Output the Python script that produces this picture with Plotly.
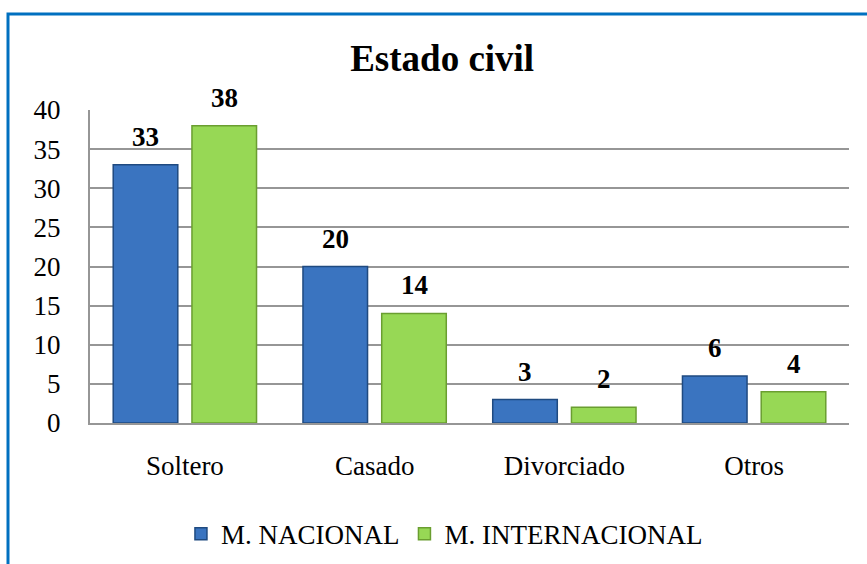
import plotly.graph_objects as go

categories = ["Soltero", "Casado", "Divorciado", "Otros"]
nacional = [33, 20, 3, 6]
internacional = [38, 14, 2, 4]
series_names = ["M. NACIONAL", "M. INTERNACIONAL"]
y_ticks = [0, 5, 10, 15, 20, 25, 30, 35, 40]

FONT = "Liberation Serif, Times New Roman, serif"
BARGAP = 0.17
half_slot = (1 - BARGAP) / 4

fig = go.Figure()
fig.add_trace(go.Bar(
    x=categories, y=nacional, name=series_names[0],
    marker=dict(color="#3A74C0", line=dict(color="#1F4A80", width=1.5)),
))
fig.add_trace(go.Bar(
    x=categories, y=internacional, name=series_names[1],
    marker=dict(color="#97D855", line=dict(color="#6A9E30", width=1.5)),
))

annotations = []
for i, (a, b) in enumerate(zip(nacional, internacional)):
    for val, off in ((a, -half_slot), (b, half_slot)):
        annotations.append(dict(
            x=i + off, y=val, xref="x", yref="y", text=f"<b>{val}</b>",
            showarrow=False, yanchor="bottom", yshift=11,
            font=dict(family=FONT, size=27, color="black"),
        ))

fig.update_layout(
    width=867, height=564,
    margin=dict(l=90, r=18, t=110, b=141, autoexpand=False),
    paper_bgcolor="white", plot_bgcolor="white",
    barmode="group", bargap=BARGAP, bargroupgap=0.18,
    font=dict(family=FONT, size=27, color="black"),
    title=dict(text="<b>Estado civil</b>", x=0.51, xanchor="center",
               y=1 - 58 / 564, yanchor="middle",
               font=dict(family=FONT, size=37, color="black")),
    showlegend=True,
    legend=dict(orientation="h", x=0.467, xanchor="center", y=-0.355, yanchor="middle",
                font=dict(family=FONT, size=27, color="black"),
                itemwidth=30, traceorder="normal"),
    xaxis=dict(showgrid=False, showline=True, linecolor="#969696", linewidth=2,
               ticks="", tickfont=dict(family=FONT, size=27), ticklabelstandoff=18,
               automargin=False),
    yaxis=dict(range=[0, 40], tickvals=y_ticks, showgrid=True, gridcolor="#969696",
               gridwidth=2, showline=True, linecolor="#969696", linewidth=2,
               ticks="", tickfont=dict(family=FONT, size=27), ticklabelstandoff=22,
               zeroline=False, automargin=False),
    annotations=annotations,
    shapes=[dict(type="rect", xref="paper", yref="paper",
                 x0=(8 - 90) / 759, x1=(875 - 90) / 759,
                 y0=(423 - 575) / 313, y1=(423 - 14) / 313,
                 line=dict(color="#0070C0", width=3), layer="below")],
)

fig.write_html("out.html", config={"displayModeBar": False},
               post_script="document.body.style.margin='0';")
